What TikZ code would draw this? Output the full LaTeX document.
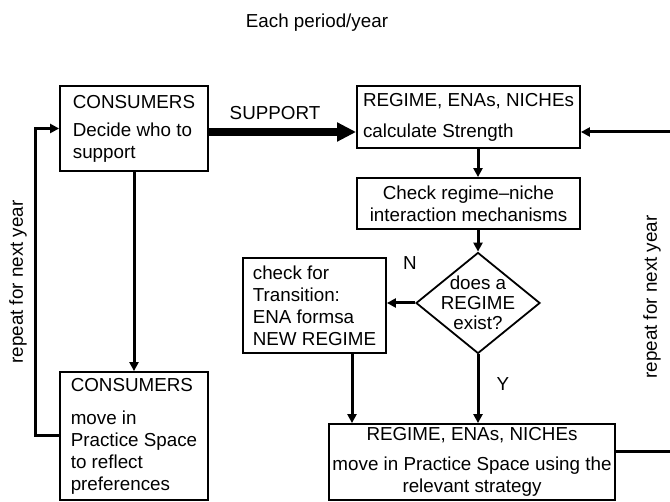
\documentclass[tikz,border=0pt]{standalone}
\usepackage{fontspec}
\setmainfont{Liberation Sans}
\usetikzlibrary{arrows.meta,shapes.geometric}

\newcommand{\flowfont}{\fontsize{9.4}{11}\selectfont}

\tikzset{
  box/.style    = {draw, line width = .9pt, inner sep = 0pt, font = \flowfont},
  decision/.style = {diamond, draw, line width = .9pt, aspect = 1.23,
                     inner sep = -3pt, minimum width = 62pt,
                     minimum height = 50.5pt, align = center, font = \flowfont},
  lbl/.style    = {font = \flowfont},
  link/.style   = {line width = 1.5pt},
  arr/.style    = {link, -{Triangle[length = 4.5pt, width = 4.5pt]}},
  bigarr/.style = {line width = 4pt, -{Triangle[length = 9.5pt, width = 9pt]}}
}

\begin{document}
\begin{tikzpicture}[x = .5pt, y = -.5pt]
  \useasboundingbox (0,0) rectangle (670,502);

  \node [lbl, anchor = base] (title) at (317,28) {Each period/year};

  % consumers side
  \node [box, align = left, minimum width = 74pt,
         minimum height = 42.5pt] (cons1) at (134,128.5)
    {CONSUMERS\\[3pt]Decide who to\\support};
  \node [box, align = left, minimum width = 74pt,
         minimum height = 64pt] (cons2) at (134,436)
    {CONSUMERS\\[5.5pt]move in\\Practice Space\\to reflect\\preferences};

  % regime side
  \node [box, align = left, minimum width = 111.5pt,
         minimum height = 31pt] (reg1) at (468.5,117)
    {REGIME, ENAs, NICHEs\\[4.5pt]calculate Strength};
  \node [box, align = center, minimum width = 111.5pt,
         minimum height = 25.5pt] (check) at (468.5,203.5)
    {Check regime--niche\\interaction mechanisms};
  \node [decision] (dia) at (478,303) {does a\\[-1pt]REGIME\\[-1pt]exist?};
  \node [box, align = left, minimum width = 71.5pt,
         minimum height = 47.5pt] (trans) at (314.5,305.5)
    {check for\\Transition:\\ENA formsa\\NEW REGIME};
  \node [box, align = center, minimum width = 143pt,
         minimum height = 38pt] (reg2) at (472,462)
    {REGIME, ENAs, NICHEs\\[4pt]move in Practice Space using the\\relevant strategy};

  % free ends of the yearly loop on the right
  \coordinate (inR) at (670,132);
  \coordinate (outR) at (670,452);

  % connectors
  \draw [bigarr] (cons1.east |- inR) -- (reg1.west |- inR);
  \node [lbl] (supp) at (275,113) {SUPPORT};
  \draw [arr] (inR) -- (inR -| reg1.east);
  \draw [arr] (dia.north |- reg1.south) -- (dia.north |- check.north);
  \draw [arr] (dia.north |- check.south) -- (dia.north);
  \draw [arr] (dia.west) -- (dia.west -| trans.east);
  \node [lbl] (no) at (410,263) {N};
  \draw [arr] (dia.south) -- (dia.south |- reg2.north);
  \node [lbl] (yes) at (503,384) {Y};
  \draw [arr] ([xshift = 18.75pt]trans.south) -- ([xshift = 18.75pt]trans.south |- reg2.north);
  \draw [link] (outR -| reg2.east) -- (outR);
  \draw [arr] (cons1.south) -- (cons2.north);
  \draw [arr] (cons2.west) -- ++(-24,0) |- (cons1.west);

  \node [lbl, rotate = 90] (repL) at (18,282) {repeat for next year};
  \node [lbl, rotate = 90] (repR) at (652,297) {repeat for next year};
\end{tikzpicture}
\end{document}
